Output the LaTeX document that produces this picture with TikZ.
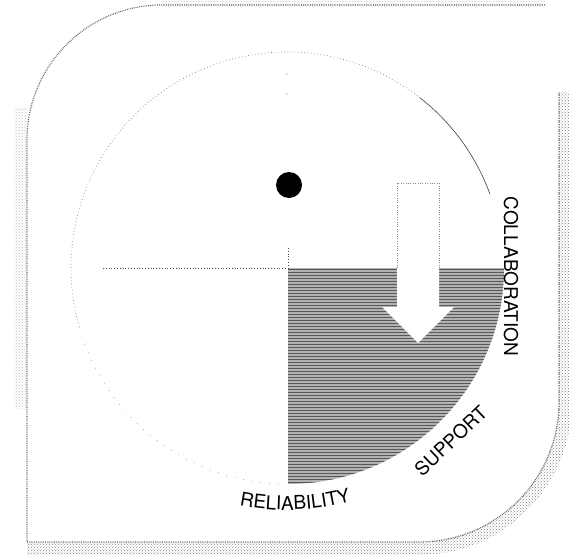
\documentclass[tikz,border=0pt]{standalone}
\usepackage{fontspec}
\setmainfont{TeX Gyre Heros}
\usetikzlibrary{decorations.text,patterns}
\begin{document}
\begin{tikzpicture}[x=1pt,y=1pt,
  frameline/.style={black!60, line width=1.2pt, dash pattern=on 0.8pt off 1.0pt},
  band/.style={pattern=crosshatch dots, pattern color=black!50},
  lightband/.style={pattern=crosshatch dots, pattern color=black!25},
  ringline/.style={black!50, line width=0.7pt, dash pattern=on 0.7pt off 2.6pt},
  sparse/.style={black!40, line width=0.7pt, dash pattern=on 0.7pt off 8pt},
  darkarc/.style={black!75, line width=0.6pt},
  axisline/.style={black!70, line width=0.6pt, dash pattern=on 1pt off 1.8pt},
  quad/.style={preaction={fill=black!30}, pattern=horizontal lines, pattern color=black!65},
  arrowbody/.style={fill=white},
  arrowedge/.style={black!45, line width=0.6pt, dash pattern=on 0.8pt off 1.6pt},
  lbl/.style={font=\fontsize{19}{19}\selectfont, inner sep=0pt}
]
\useasboundingbox (0,0) rectangle (569,558);
\coordinate (C) at (287,290);
\coordinate (Q) at (288,290);

% outer frame: stippled bands
\fill[band] (559,466) -- (559,156) arc[start angle=0,end angle=-90,radius=140pt] -- (27,16) -- (27,3) -- (419,3) arc[start angle=-90,end angle=0,radius=153pt] -- (572,466) -- cycle;
\fill[lightband] (14,150) rectangle (27,450);
\fill[lightband] (162,551) rectangle (545,557);
% outer frame line
\draw[frameline] (545,553) -- (162,553) arc[start angle=90,end angle=180,radius=135pt] -- (27,16) -- (419,16) arc[start angle=-90,end angle=0,radius=140pt] -- (559,466);

% shaded quadrant
\fill[quad] (Q) -- ++(216,0) arc[start angle=0,end angle=-90,radius=216pt] -- cycle;

% circle outline
\draw[darkarc] ([shift={(20:216)}]C) arc[start angle=20,end angle=52,radius=216pt];
\draw[ringline] ([shift={(52:216)}]C) arc[start angle=52,end angle=196,radius=216pt];
\draw[sparse] ([shift={(196:216)}]C) arc[start angle=196,end angle=268,radius=216pt];

% axis lines
\coordinate (axL) at (103,290);
\draw[axisline] (axL) -- (Q);
\coordinate (vT) at (288,310);
\draw[axisline] (vT) -- (Q);
\fill[black!50] (287,484) circle (0.7pt) (287,464) circle (0.7pt);

% black dot
\fill[black] (289,373) circle (13pt);

% arrow
\fill[arrowbody] (397,375) -- (439,375) -- (439,251) -- (454,251) -- (418,215) -- (382,251) -- (397,251) -- cycle;
\draw[arrowedge] (397,290) -- (397,375) -- (439,375) -- (439,290);

% labels
\node[lbl, rotate=-90, anchor=base] (collab) at (504,281.5) {COLLABORATION};
\node[lbl, rotate=43.5, anchor=base] (support) at (455.6,112.3) {SUPPORT};
\path[decorate, decoration={text along path, text align=center,
  text={|\fontsize{19}{19}\selectfont|RELIABILITY}}]
  ([shift={(-118:242)}]C) arc[start angle=-118,end angle=-58,radius=242pt];
\end{tikzpicture}
\end{document}
